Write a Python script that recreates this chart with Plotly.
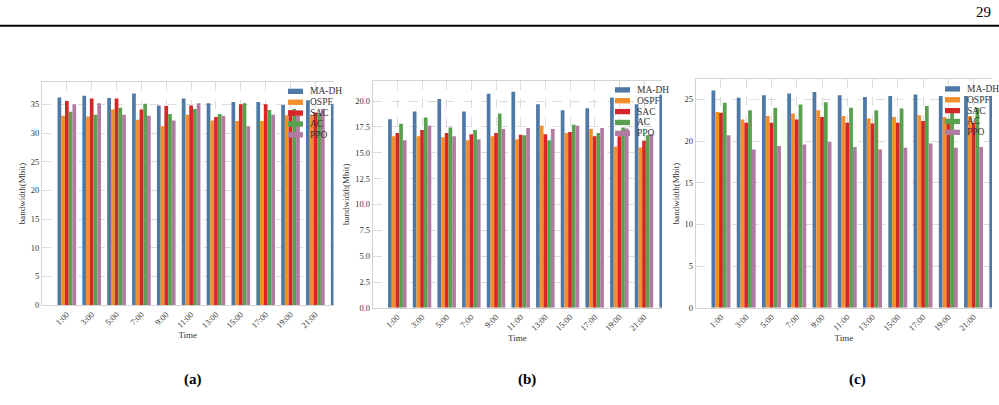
import plotly.graph_objects as go

# ---------------- data ----------------
times = ["1:00", "3:00", "5:00", "7:00", "9:00", "11:00", "13:00", "15:00",
         "17:00", "19:00", "21:00", "23:00"]
series_names = ["MA-DH", "OSPF", "SAC", "AC", "PPO"]

a_madh = [36.2, 36.5, 36.1, 36.9, 34.8, 36.0, 35.2, 35.4, 35.4, 34.9, 35.7, 35.1]
a_ospf = [33.0, 32.9, 34.1, 32.3, 31.2, 33.2, 32.2, 32.1, 32.1, 33.1, 33.0, 32.5]
a_sac = [35.6, 36.0, 36.0, 34.1, 34.7, 34.8, 32.8, 35.0, 35.0, 34.0, 33.6, 34.5]
a_ac = [33.7, 33.2, 34.4, 35.1, 33.3, 34.2, 33.3, 35.2, 34.0, 34.2, 33.4, 33.5]
a_ppo = [35.0, 35.2, 33.2, 33.0, 32.2, 35.2, 33.0, 31.2, 33.2, 33.0, 34.2, 33.0]

b_madh = [18.25, 19.0, 20.2, 19.0, 20.7, 20.9, 19.7, 19.1, 19.3, 20.35, 19.7, 20.6]
b_ospf = [16.6, 16.6, 16.5, 16.2, 16.6, 16.3, 17.6, 16.9, 17.3, 15.6, 15.5, 16.0]
b_sac = [16.9, 17.2, 16.9, 16.8, 16.9, 16.75, 16.8, 17.0, 16.6, 16.6, 16.15, 16.5]
b_ac = [17.8, 18.4, 17.45, 17.2, 18.8, 16.7, 16.2, 17.7, 16.9, 17.45, 16.7, 17.0]
b_ppo = [16.2, 17.6, 16.6, 16.3, 17.3, 17.4, 17.3, 17.6, 17.4, 17.35, 16.8, 16.8]

c_madh = [26.07, 25.2, 25.5, 25.7, 25.9, 25.5, 25.3, 25.4, 25.6, 25.4, 25.4, 25.4]
c_ospf = [23.5, 22.6, 23.0, 23.3, 23.7, 23.0, 22.7, 22.9, 23.1, 22.9, 23.0, 22.9]
c_sac = [23.4, 22.2, 22.2, 22.6, 22.9, 22.2, 22.1, 22.2, 22.4, 22.2, 22.2, 22.2]
c_ac = [24.6, 23.7, 24.0, 24.4, 24.65, 24.0, 23.7, 23.9, 24.2, 23.9, 24.0, 24.0]
c_ppo = [20.7, 19.0, 19.4, 19.6, 19.9, 19.3, 19.0, 19.2, 19.7, 19.2, 19.3, 19.3]

panel_labels = ["(a)", "(b)", "(c)"]
page_number = "29"

# ---------------- styling ----------------
colors = ["#4E79A7", "#F28E2B", "#D62728", "#59A14F", "#B07AA1"]
W, H = 999, 405
FONT = "Liberation Serif"
TXT = "#333333"

def px_x(p):
    return p / W

def px_y(p):
    return 1 - p / H

panels = [
    dict(data=[a_madh, a_ospf, a_sac, a_ac, a_ppo], x0=42, x1=333.5, top=83, bottom=309,
         yr=[0, 38.9], dtick=5, fmt="d", leg_x=288, leg_y=92.5, lab_x=193),
    dict(data=[b_madh, b_ospf, b_sac, b_ac, b_ppo], x0=372.7, x1=662, top=81.7, bottom=311.7,
         yr=[0, 21.97], dtick=2.5, fmt=".1f", leg_x=615, leg_y=91, lab_x=527),
    dict(data=[c_madh, c_ospf, c_sac, c_ac, c_ppo], x0=695.7, x1=992, top=80, bottom=311.7,
         yr=[0, 27.45], dtick=5, fmt="d", leg_x=945, leg_y=90, lab_x=857),
]

fig = go.Figure()
layout = dict(
    width=W, height=H, margin=dict(l=0, r=0, t=0, b=0),
    paper_bgcolor="white", plot_bgcolor="white",
    barmode="group", bargap=0.25, bargroupgap=0,
    showlegend=False,
    font=dict(family=FONT, color=TXT, size=8.5),
)
shapes = []
annotations = []

for k, p in enumerate(panels):
    sfx = "" if k == 0 else str(k + 1)
    for name, vals, col in zip(series_names, p["data"], colors):
        fig.add_trace(go.Bar(x=times, y=vals, name=name, marker_color=col,
                             marker_line_width=0, xaxis="x" + sfx, yaxis="y" + sfx))
    layout["xaxis" + sfx] = dict(
        domain=[px_x(p["x0"]), px_x(p["x1"])], anchor="y" + sfx,
        type="category", categoryorder="array", categoryarray=times,
        range=[-1.0, 10.73], tickangle=-45, tickfont=dict(size=8.5, family=FONT, color=TXT),
        showgrid=True, gridcolor="#dcdcdc", griddash="dash", gridwidth=0.8,
        showline=True, mirror=True, linecolor="#d4d4d4", linewidth=1,
        ticks="", title=dict(text="Time", font=dict(size=9, family=FONT, color=TXT), standoff=2),
        fixedrange=True,
    )
    layout["yaxis" + sfx] = dict(
        domain=[px_y(p["bottom"]), px_y(p["top"])], anchor="x" + sfx,
        range=p["yr"], dtick=p["dtick"], tick0=0, tickformat=p["fmt"],
        tickfont=dict(size=8.5, family=FONT, color=TXT),
        showgrid=True, gridcolor="#dcdcdc", griddash="dash", gridwidth=0.8,
        showline=True, linecolor="#d4d4d4", linewidth=1, zeroline=False, ticks="",
        title=dict(text="bandwidth(Mbit)", font=dict(size=9, family=FONT, color=TXT), standoff=3),
        fixedrange=True,
    )
    # legend (drawn manually to match compact matplotlib legend)
    for i, (name, col) in enumerate(zip(series_names, colors)):
        cy = p["leg_y"] + i * 11
        shapes.append(dict(type="rect", xref="paper", yref="paper", layer="above",
                           x0=px_x(p["leg_x"]), x1=px_x(p["leg_x"] + 15),
                           y0=px_y(cy + 2.7), y1=px_y(cy - 2.7),
                           fillcolor=col, line=dict(width=0)))
        annotations.append(dict(xref="paper", yref="paper", x=px_x(p["leg_x"] + 20), y=px_y(cy),
                                xanchor="left", yanchor="middle", showarrow=False,
                                text=name, font=dict(size=9.5, family=FONT, color=TXT)))
    annotations.append(dict(xref="paper", yref="paper", x=px_x(p["lab_x"]), y=px_y(384),
                            xanchor="center", yanchor="middle", showarrow=False,
                            text="<b>" + panel_labels[k] + "</b>",
                            font=dict(size=15, family=FONT, color="black")))

# page header
shapes.append(dict(type="line", xref="paper", yref="paper", x0=0, x1=1,
                   y0=px_y(26), y1=px_y(26), line=dict(color="black", width=2)))
annotations.append(dict(xref="paper", yref="paper", x=px_x(993), y=px_y(12),
                        xanchor="right", yanchor="middle", showarrow=False,
                        text=page_number, font=dict(size=15, family=FONT, color="black")))

layout["shapes"] = shapes
layout["annotations"] = annotations
fig.update_layout(**layout)
fig.write_html("out.html")
